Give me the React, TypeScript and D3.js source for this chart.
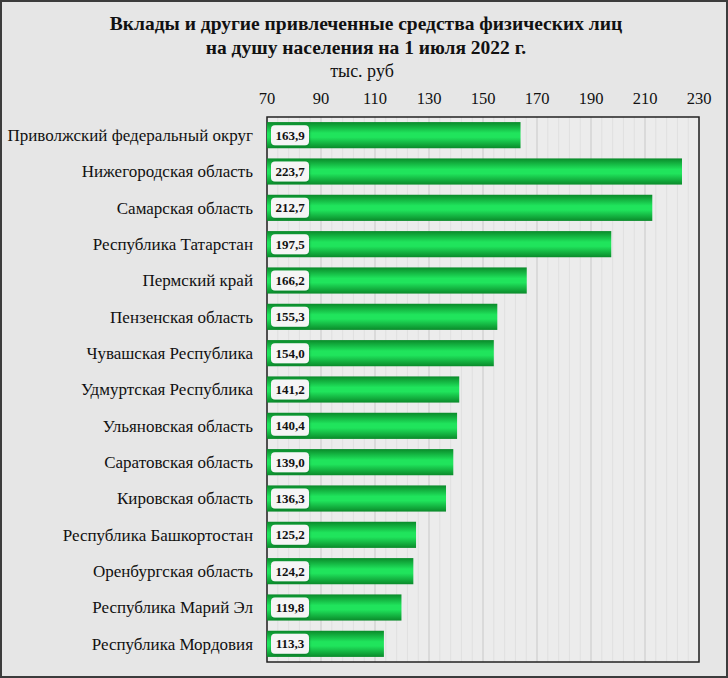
import React, { useEffect, useRef } from "react";
import * as d3 from "d3";

const regions = [
  "Приволжский федеральный округ",
  "Нижегородская область",
  "Самарская область",
  "Республика Татарстан",
  "Пермский край",
  "Пензенская область",
  "Чувашская Республика",
  "Удмуртская Республика",
  "Ульяновская область",
  "Саратовская область",
  "Кировская область",
  "Республика Башкортостан",
  "Оренбургская область",
  "Республика Марий Эл",
  "Республика Мордовия",
];
const values = [163.9, 223.7, 212.7, 197.5, 166.2, 155.3, 154.0, 141.2, 140.4, 139.0, 136.3, 125.2, 124.2, 119.8, 113.3];
const ticks = [70, 90, 110, 130, 150, 170, 190, 210, 230];
const title = ["Вклады и другие привлеченные средства физических лиц", "на душу населения на 1 июля 2022 г."];
const unit = "тыс. руб";

const W = 728;
const H = 678;
const serif = "Liberation Serif";

export default function App() {
  const ref = useRef<SVGSVGElement>(null);

  useEffect(() => {
    drawChart();
  });

  function drawChart() {
    const svg = d3.select(ref.current);
    svg.selectAll("*").remove();

    const left = 267, right = 699, top = 117, bottom = 662;
    const x = d3.scaleLinear().domain([70, 230]).range([left, right]);
    const y = d3.scaleBand<string>().domain(regions).range([top, bottom]).paddingInner(0.28).paddingOuter(0.14);

    const defs = svg.append("defs");
    const grad = defs.append("linearGradient").attr("id", "barGrad").attr("x1", 0).attr("y1", 0).attr("x2", 0).attr("y2", 1);
    grad.append("stop").attr("offset", "0%").attr("stop-color", "#0a8a2a");
    grad.append("stop").attr("offset", "42%").attr("stop-color", "#20e45c");
    grad.append("stop").attr("offset", "58%").attr("stop-color", "#20e45c");
    grad.append("stop").attr("offset", "100%").attr("stop-color", "#0a8a2a");
    const shadow = defs.append("filter").attr("id", "lblShadow").attr("x", "-20%").attr("y", "-20%").attr("width", "140%").attr("height", "140%");
    shadow.append("feDropShadow").attr("dx", 0.5).attr("dy", 0.5).attr("stdDeviation", 1).attr("flood-color", "#000").attr("flood-opacity", 0.35);

    // фон и рамка
    svg.append("rect").attr("x", 0).attr("y", 0).attr("width", W).attr("height", H).attr("fill", "#e6e6e6");
    svg.append("rect").attr("x", 1).attr("y", 1).attr("width", W - 2).attr("height", H - 2)
      .attr("fill", "none").attr("stroke", "#3c3c3c").attr("stroke-width", 2);

    svg.append("rect").attr("x", left).attr("y", top).attr("width", right - left).attr("height", bottom - top).attr("fill", "#ececec");

    // сетка: мелкая каждые 4, крупная каждые 20
    const minor = d3.range(70, 231, 4).filter((v) => (v - 70) % 20 !== 0);
    svg.append("g").selectAll("line").data(minor).join("line")
      .attr("x1", (d) => x(d)).attr("x2", (d) => x(d)).attr("y1", top).attr("y2", bottom)
      .attr("stroke", "#e0e0e0").attr("stroke-width", 1);
    svg.append("g").selectAll("line").data(ticks).join("line")
      .attr("x1", (d) => x(d)).attr("x2", (d) => x(d)).attr("y1", top).attr("y2", bottom)
      .attr("stroke", "#c8c8c8").attr("stroke-width", 1);

    svg.append("rect").attr("x", left).attr("y", top).attr("width", right - left).attr("height", bottom - top)
      .attr("fill", "none").attr("stroke", "#222").attr("stroke-width", 1.5);

    // заголовок
    svg.append("g").selectAll("text").data(title).join("text")
      .attr("x", 366).attr("y", (d, i) => 30 + i * 24)
      .attr("text-anchor", "middle").style("font-family", serif).attr("font-weight", "bold").attr("font-size", 19.5)
      .attr("fill", "#111").text((d) => d);
    svg.append("text").attr("x", 362).attr("y", 77).attr("text-anchor", "middle")
      .style("font-family", serif).attr("font-size", 18).attr("fill", "#111").text(unit);

    // подписи оси
    svg.append("g").selectAll("text").data(ticks).join("text")
      .attr("x", (d) => x(d)).attr("y", 104).attr("text-anchor", "middle")
      .style("font-family", serif).attr("font-size", 16.5).attr("fill", "#111").text((d) => d);

    // категории
    svg.append("g").selectAll("text").data(regions).join("text")
      .attr("x", 253).attr("y", (d) => (y(d) as number) + y.bandwidth() / 2)
      .attr("dy", "0.35em").attr("text-anchor", "end")
      .style("font-family", serif).attr("font-size", 17).attr("fill", "#111").text((d) => d);

    // столбики
    svg.append("g").selectAll("rect").data(values).join("rect")
      .attr("x", x(70)).attr("y", (d, i) => y(regions[i]) as number)
      .attr("width", (d) => x(d) - x(70)).attr("height", y.bandwidth())
      .attr("fill", "url(#barGrad)");

    // значения в плашках
    const lbl = svg.append("g").selectAll("g").data(values).join("g")
      .attr("transform", (d, i) => `translate(${left + 4},${(y(regions[i]) as number) + y.bandwidth() / 2})`);
    lbl.append("rect").attr("x", 0).attr("y", -10).attr("width", 38).attr("height", 20).attr("rx", 4)
      .attr("fill", "#f5f5f5").attr("filter", "url(#lblShadow)");
    lbl.append("text").attr("x", 19).attr("dy", "0.35em").attr("text-anchor", "middle")
      .style("font-family", serif).attr("font-weight", "bold").attr("font-size", 13).attr("fill", "#111")
      .text((d) => d.toFixed(1).replace(".", ","));
  }

  return <svg ref={ref} width={W} height={H} style={{ display: "block", position: "absolute", left: 0, top: 0 }} />;
}
